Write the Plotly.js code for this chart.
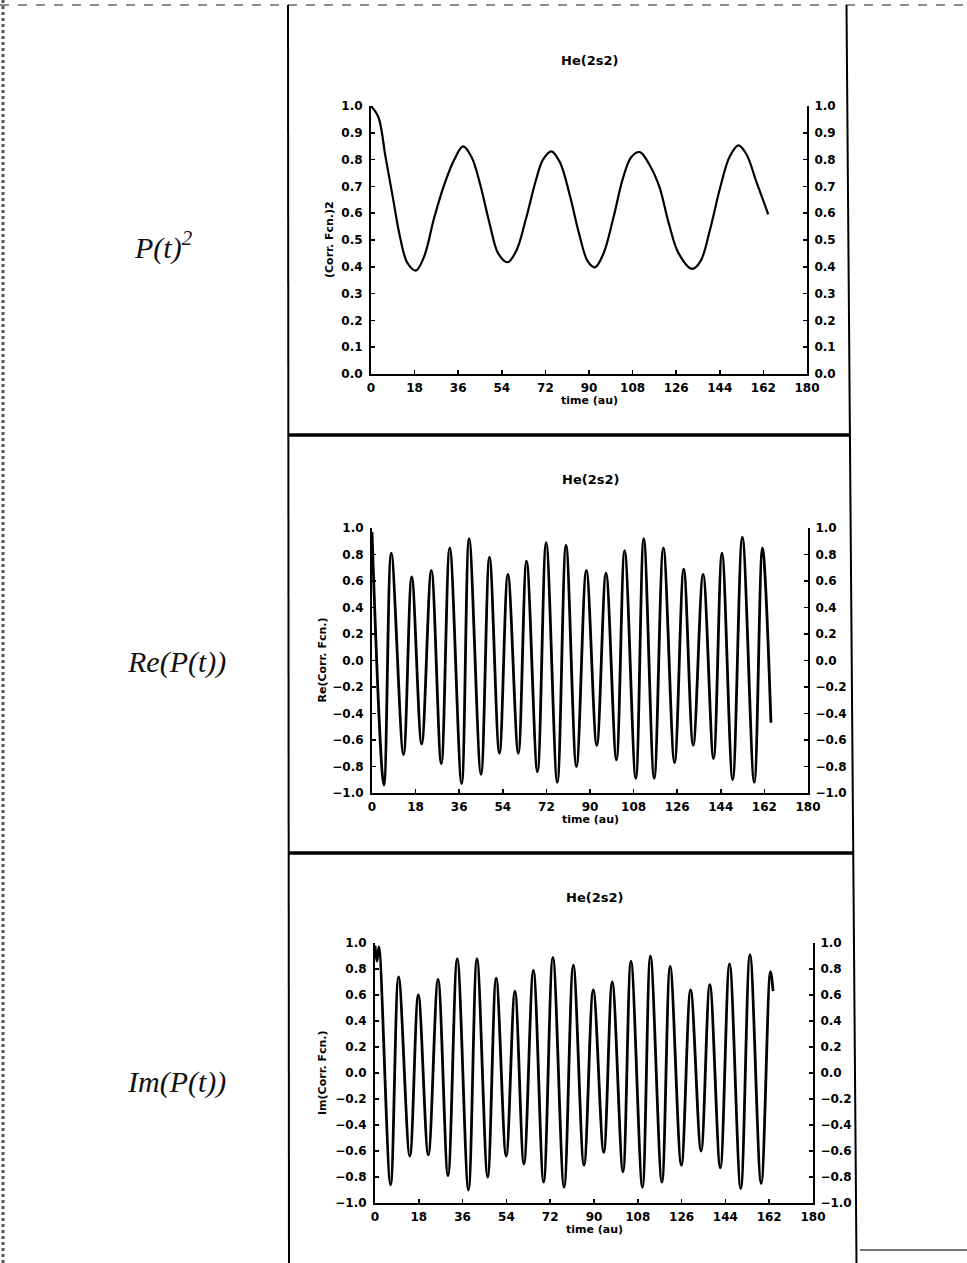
<!DOCTYPE html>
<html><head><meta charset="utf-8">
<script src="https://cdn.plot.ly/plotly-3.0.1.min.js"></script>
<style>html,body{margin:0;padding:0;background:#fff}#chart{width:967px;height:1263px}</style>
</head><body><div id="chart"></div>
<script>
// ---- data ----
const xTicks = [0, 18, 36, 54, 72, 90, 108, 126, 144, 162, 180];
const sqTicks = [0.0, 0.1, 0.2, 0.3, 0.4, 0.5, 0.6, 0.7, 0.8, 0.9, 1.0];
const reImTicks = [-1.0, -0.8, -0.6, -0.4, -0.2, 0.0, 0.2, 0.4, 0.6, 0.8, 1.0];
const panelTitles = ['He(2s2)', 'He(2s2)', 'He(2s2)'];
const yTitles = ['(Corr. Fcn.)2', 'Re(Corr. Fcn.)', 'Im(Corr. Fcn.)'];
const xTitle = 'time (au)';
const sideLabels = ['P(t)<sup>2</sup>', 'Re(P(t))', 'Im(P(t))'];

const timeSq = [0, 3, 6, 9, 12, 15, 18.5, 22, 26, 30, 34.4, 38, 41.5, 45, 49, 52.5, 56.4, 60, 64, 68, 71, 74.5, 78, 82, 86, 89.5, 92.5, 96, 100, 104, 107.5, 111, 115, 119, 123, 127, 132.6, 136, 140, 144, 148, 151.7, 155, 159, 164];
const corrSq = [1.00, 0.96, 0.81, 0.66, 0.51, 0.415, 0.386, 0.44, 0.58, 0.70, 0.80, 0.849, 0.81, 0.71, 0.56, 0.45, 0.417, 0.46, 0.58, 0.72, 0.80, 0.831, 0.79, 0.67, 0.52, 0.42, 0.398, 0.45, 0.58, 0.73, 0.81, 0.828, 0.78, 0.70, 0.56, 0.45, 0.392, 0.42, 0.54, 0.69, 0.81, 0.853, 0.82, 0.72, 0.596];

const timeRe = [0, 4.9, 7.95, 13.0, 16.4, 20.5, 24.5, 28.6, 32.1, 37.0, 40.1, 45.0, 48.5, 52.6, 56.1, 60.4, 63.8, 68.3, 71.9, 76.5, 80.1, 84.4, 88.5, 92.8, 96.6, 100.9, 104.3, 108.9, 112.2, 116.5, 120.3, 124.9, 128.7, 132.6, 136.7, 141.0, 144.5, 148.9, 152.9, 157.8, 161.2, 164.7];
const corrRe = [0.97, -0.94, 0.81, -0.71, 0.63, -0.63, 0.68, -0.78, 0.85, -0.93, 0.92, -0.86, 0.78, -0.70, 0.65, -0.70, 0.75, -0.84, 0.89, -0.92, 0.87, -0.80, 0.68, -0.64, 0.66, -0.75, 0.83, -0.89, 0.92, -0.89, 0.85, -0.77, 0.69, -0.64, 0.65, -0.74, 0.81, -0.90, 0.93, -0.92, 0.85, -0.47];

const timeIm = [0, 0.8, 1.6, 6.4, 9.7, 14.3, 17.8, 21.9, 25.9, 30.0, 33.8, 38.4, 41.9, 46.3, 49.8, 53.9, 57.5, 61.2, 65.1, 69.3, 73.1, 77.7, 81.5, 85.9, 89.7, 94.0, 97.5, 101.9, 105.2, 109.9, 113.2, 117.9, 121.3, 125.9, 129.7, 134.0, 137.6, 141.9, 145.7, 150.3, 154.1, 158.7, 162.5, 163.6];
const corrIm = [0.98, 0.86, 0.97, -0.86, 0.74, -0.64, 0.60, -0.63, 0.72, -0.79, 0.88, -0.90, 0.88, -0.80, 0.73, -0.64, 0.63, -0.70, 0.79, -0.84, 0.89, -0.88, 0.83, -0.71, 0.64, -0.61, 0.70, -0.76, 0.86, -0.88, 0.90, -0.84, 0.82, -0.71, 0.64, -0.60, 0.68, -0.73, 0.84, -0.89, 0.91, -0.85, 0.78, 0.63];

// ---- layout geometry (pixels) ----
const W = 967, H = 1263;
const px = v => v / W, py = v => 1 - v / H;
const panels = [
  {l: 371, r: 807, t: 106, b: 374, title: 60, yt: 330, side: [163, 246]},
  {l: 372, r: 808, t: 528, b: 793, title: 480, yt: 322, side: [176, 662]},
  {l: 375, r: 813, t: 943, b: 1203, title: 897, yt: 322, side: [176, 1082]}
];
const series = [[timeSq, corrSq, sqTicks, 2.2], [timeRe, corrRe, reImTicks, 2.8], [timeIm, corrIm, reImTicks, 2.8]];

const tickFont = {family: 'DejaVu Sans', size: 12, color: '#000', weight: 'bold'};
const data = [];
const layout = {
  width: W, height: H, margin: {l: 0, r: 0, t: 0, b: 0},
  paper_bgcolor: '#fff', plot_bgcolor: 'rgba(0,0,0,0)', showlegend: false,
  annotations: [], shapes: []
};
const ann = (x, y, text, font, extra) => Object.assign({xref: 'paper', yref: 'paper', x: x, y: y, text: text,
  showarrow: false, xanchor: 'center', yanchor: 'middle', font: font}, extra || {});
panels.forEach((p, i) => {
  const xa = i === 0 ? 'x' : 'x' + (i + 1);
  const ya = 'y' + (2 * i + 1 === 1 ? '' : 2 * i + 1);
  const ya2 = 'y' + (2 * i + 2);
  const [tx, ty, yt, lw] = series[i];
  const yr = [yt[0], yt[yt.length - 1]];
  data.push({x: tx, y: ty, xaxis: xa, yaxis: ya, type: 'scatter', mode: 'lines',
    line: {color: '#000', width: lw, shape: 'spline', smoothing: 1}, hoverinfo: 'skip'});
  data.push({x: tx, y: ty, xaxis: xa, yaxis: ya2, type: 'scatter', mode: 'lines',
    line: {color: 'rgba(0,0,0,0)', width: 0}, hoverinfo: 'skip'});
  const common = {showgrid: false, zeroline: false, showline: true, linecolor: '#000', linewidth: 2,
    ticks: 'inside', ticklen: 4, tickwidth: 1.5, tickcolor: '#000', tickfont: tickFont};
  const lbl = yt.map(v => v.toFixed(1).replace('-', '\u2212'));
  layout[xa === 'x' ? 'xaxis' : 'xaxis' + (i + 1)] = Object.assign({}, common, {
    domain: [px(p.l), px(p.r)], anchor: ya, range: [0, 180], tickmode: 'array', tickvals: xTicks,
    ticktext: xTicks.map(String), ticklabelstandoff: 2});
  layout[ya === 'y' ? 'yaxis' : 'yaxis' + (2 * i + 1)] = Object.assign({}, common, {
    domain: [py(p.b), py(p.t)], anchor: xa, range: yr, tickmode: 'array', tickvals: yt,
    ticktext: lbl, ticklabelstandoff: 4});
  layout['yaxis' + (2 * i + 2)] = Object.assign({}, common, {
    overlaying: ya, side: 'right', anchor: xa, range: yr, tickmode: 'array', tickvals: yt,
    ticktext: lbl, ticklabelstandoff: 3});
  const cx = px((p.l + p.r) / 2);
  layout.annotations.push(ann(cx, py(p.title), panelTitles[i], {family: 'DejaVu Sans', size: 13, color: '#000', weight: 'bold'}));
  layout.annotations.push(ann(cx, py(p.b + 26), xTitle, {family: 'DejaVu Sans', size: 11, color: '#000', weight: 'bold'}));
  layout.annotations.push(ann(px(p.yt), py((p.t + p.b) / 2), yTitles[i], {family: 'DejaVu Sans', size: 11, color: '#000', weight: 'bold'}, {textangle: -90}));
  layout.annotations.push(ann(px(p.side[0]), py(p.side[1]), sideLabels[i], {family: 'Liberation Serif', size: 30, color: '#111', style: 'italic'}));
});

// frame lines of the page
const ln = (x0, y0, x1, y1, w, c, dash) => ({type: 'line', xref: 'paper', yref: 'paper',
  x0: px(x0), y0: py(y0), x1: px(x1), y1: py(y1), line: {color: c, width: w, dash: dash || 'solid'}});
layout.shapes.push(
  ln(3, 0, 3, H, 3, '#555', 'dot'),
  ln(0, 5, W, 5, 1.5, '#666', 'dash'),
  ln(288, 5, 289, H, 2, '#000'),
  ln(846.5, 5, 856.5, H, 2, '#000'),
  ln(288, 435, 850, 435, 3.5, '#000'),
  ln(288, 853, 854, 853, 3.5, '#000'),
  ln(860, 1250, W, 1250, 1.5, '#444')
);

Plotly.newPlot('chart', data, layout, {staticPlot: true, displayModeBar: false});
</script></body></html>
